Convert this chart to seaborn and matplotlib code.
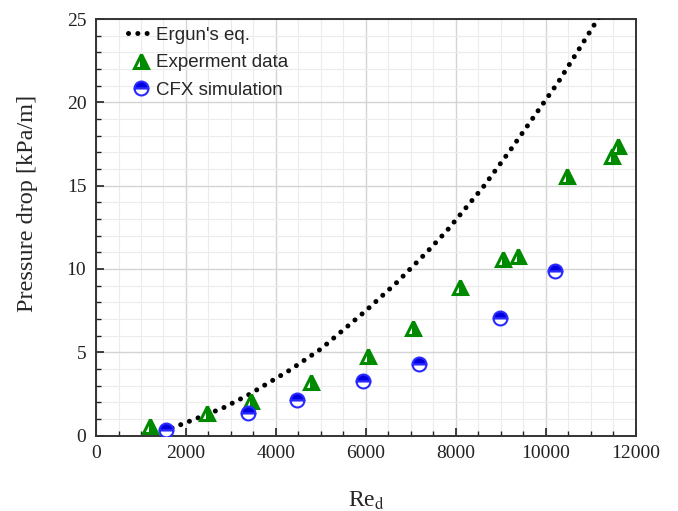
import numpy as np
import pandas as pd
import matplotlib
matplotlib.use("Agg")
import matplotlib.pyplot as plt
from matplotlib.ticker import MultipleLocator
import seaborn as sns

# ===== Data =====
re_ergun = [1690, 2090, 2820, 3380, 4310, 5000, 6000, 6690, 7350, 7800,
            8600, 9200, 9800, 10270, 10760, 11130, 11300]
dp_ergun = [0.45, 0.87, 1.65, 2.43, 3.93, 5.2, 7.5, 9.2, 11.0, 12.3,
            14.9, 17.1, 19.4, 21.2, 23.3, 24.9, 25.6]

re_exp = [1200, 2470, 3440, 4780, 6050, 7050, 8090, 9050, 9380, 10460, 11460, 11600]
dp_exp = [0.55, 1.35, 2.05, 3.2, 4.8, 6.45, 8.9, 10.6, 10.8, 15.55, 16.8, 17.4]

re_cfx = [1550, 3370, 4470, 5930, 7180, 8980, 10200]
dp_cfx = [0.35, 1.35, 2.15, 3.25, 4.3, 7.05, 9.85]

sns.set_style("ticks")
plt.rcParams['font.family'] = ['Liberation Serif', 'DejaVu Serif']
plt.rcParams['mathtext.fontset'] = 'stix'

fig = plt.figure(figsize=(6.78, 5.11), dpi=100)
ax = fig.add_axes([0.1416, 0.1477, 0.7964, 0.8151])

ergun = pd.DataFrame({'Re': re_ergun, 'dp': dp_ergun})
exp = pd.DataFrame({'Re': re_exp, 'dp': dp_exp})
cfx = pd.DataFrame({'Re': re_cfx, 'dp': dp_cfx})

sns.lineplot(data=ergun, x='Re', y='dp', ax=ax, sort=False, estimator=None,
             color='black', lw=3.6, linestyle=(0, (0.01, 1.85)),
             dash_capstyle='round', label="Ergun's eq.", zorder=3)
sns.lineplot(data=exp, x='Re', y='dp', ax=ax, sort=False, estimator=None,
             linestyle='', marker='^', markersize=10, fillstyle='right',
             markerfacecolor='#008a00', markerfacecoloralt='white',
             markeredgecolor='#008a00', markeredgewidth=2.2,
             label='Experment data', zorder=4)
sns.lineplot(data=cfx, x='Re', y='dp', ax=ax, sort=False, estimator=None,
             linestyle='', marker='o', markersize=10, fillstyle='top',
             markerfacecolor='#0000e0', markerfacecoloralt='white',
             markeredgecolor='#2a2aff', markeredgewidth=1.5,
             label='CFX simulation', zorder=4)

# ===== Axes =====
ax.set_xlim(0, 12000)
ax.set_ylim(0, 25)
ax.xaxis.set_major_locator(MultipleLocator(2000))
ax.xaxis.set_minor_locator(MultipleLocator(500))
ax.yaxis.set_major_locator(MultipleLocator(5))
ax.yaxis.set_minor_locator(MultipleLocator(1))
ax.grid(which='major', color='#d4d4d4', lw=1.0)
ax.grid(which='minor', color='#ececec', lw=0.8)
ax.set_axisbelow(True)

ax.tick_params(which='both', direction='in', top=False, right=False,
               labelsize=14, colors='#222222', pad=7)
ax.tick_params(which='major', length=6, width=1.2)
ax.tick_params(which='minor', length=3.5, width=1.0)
for s in ax.spines.values():
    s.set_color('#333333')
    s.set_linewidth(1.4)

ax.set_xlabel(r"Re$_\mathrm{d}$", fontsize=17, labelpad=20)
ax.set_ylabel("Pressure drop [kPa/m]", fontsize=17.5)
ax.yaxis.set_label_coords(-0.108, 0.558)

leg = ax.legend(loc='upper left', bbox_to_anchor=(0.035, 1.013), frameon=False,
                prop={'family': 'Liberation Sans', 'size': 13.5},
                handlelength=1.4, handletextpad=0.1, labelspacing=0.55,
                borderaxespad=0.3)

fig.savefig("out.png", dpi=100)
